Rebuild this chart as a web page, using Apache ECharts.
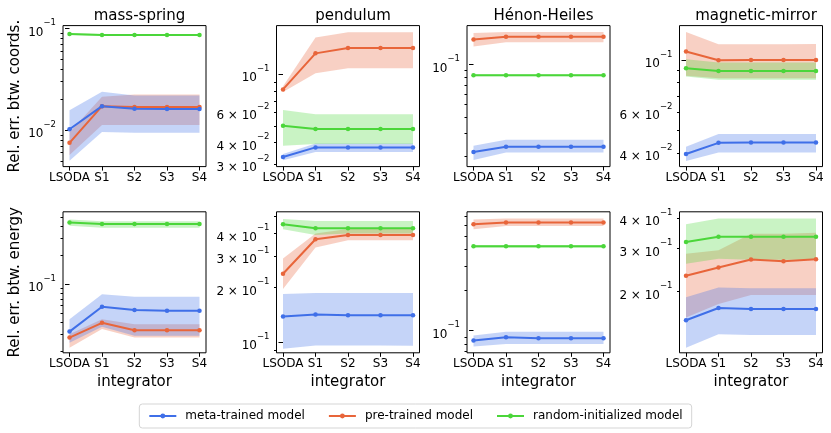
<!DOCTYPE html>
<html lang="en">
<head>
    <meta charset="UTF-8">
    <title>Relative error by integrator</title>
    <script src="https://cdn.jsdelivr.net/npm/echarts@6/dist/echarts.min.js"></script>
    <style>
        html, body { margin: 0; padding: 0; background: #fff; }
        #main { width: 831px; height: 433px; }
    </style>
</head>
<body>
<div id="main"></div>
<script>
    // categories
    const integrators = ['LSODA', 'S1', 'S2', 'S3', 'S4'];
    const systems = ['mass-spring', 'pendulum', 'Hénon-Heiles', 'magnetic-mirror'];
    const models = ['meta-trained model', 'pre-trained model', 'random-initialized model'];
    const metricNames = ['Rel. err. btw. coords.', 'Rel. err. btw. energy'];

    // coords error, one row per system (mean / lower / upper of the band)
    const metaCoords   = [[0.0102, 0.0172, 0.0162, 0.0161, 0.0161], [0.0330, 0.0375, 0.0374, 0.0374, 0.0374], [0.0216, 0.0237, 0.0237, 0.0237, 0.0237], [0.0397, 0.0443, 0.0445, 0.0445, 0.0445]];
    const metaCoordsLo = [[0.0050, 0.0096, 0.0094, 0.0094, 0.0094], [0.0316, 0.0353, 0.0353, 0.0353, 0.0353], [0.0188, 0.0214, 0.0214, 0.0214, 0.0214], [0.0371, 0.0403, 0.0403, 0.0403, 0.0403]];
    const metaCoordsHi = [[0.0157, 0.0238, 0.0219, 0.0219, 0.0219], [0.0343, 0.0395, 0.0395, 0.0395, 0.0395], [0.0241, 0.0268, 0.0268, 0.0268, 0.0268], [0.0426, 0.0483, 0.0483, 0.0483, 0.0483]];
    const preCoords    = [[0.0075, 0.0172, 0.0169, 0.0169, 0.0169], [0.0815, 0.132, 0.142, 0.142, 0.142], [0.155, 0.163, 0.163, 0.163, 0.163], [0.1085, 0.0997, 0.0998, 0.0998, 0.0998]];
    const preCoordsLo  = [[0.0057, 0.0112, 0.0112, 0.0112, 0.0112], [0.0786, 0.101, 0.108, 0.108, 0.108], [0.137, 0.148, 0.148, 0.148, 0.148], [0.0855, 0.0835, 0.0835, 0.0835, 0.0835]];
    const preCoordsHi  = [[0.0095, 0.0213, 0.0224, 0.0224, 0.0224], [0.0850, 0.163, 0.175, 0.175, 0.175], [0.174, 0.177, 0.177, 0.177, 0.177], [0.1314, 0.1167, 0.1167, 0.1167, 0.1170]];
    const randCoords   = [[0.088, 0.086, 0.086, 0.086, 0.086], [0.0501, 0.0480, 0.0480, 0.0480, 0.0480], [0.0830, 0.0830, 0.0830, 0.0830, 0.0830], [0.0922, 0.0897, 0.0897, 0.0897, 0.0897]];
    const randCoordsLo = [[0.086, 0.084, 0.084, 0.084, 0.084], [0.0383, 0.0392, 0.0392, 0.0392, 0.0392], [0.0815, 0.0815, 0.0815, 0.0815, 0.0815], [0.0849, 0.0822, 0.0822, 0.0822, 0.0822]];
    const randCoordsHi = [[0.090, 0.088, 0.088, 0.088, 0.088], [0.0618, 0.0585, 0.0585, 0.0585, 0.0585], [0.0845, 0.0845, 0.0845, 0.0845, 0.0845], [0.1007, 0.0974, 0.0974, 0.0974, 0.0974]];

    // energy error
    const metaEnergy   = [[0.0320, 0.0582, 0.0537, 0.0529, 0.0529], [0.1384, 0.142, 0.141, 0.141, 0.141], [0.0844, 0.0894, 0.0880, 0.0880, 0.0880], [0.1529, 0.1714, 0.1697, 0.1697, 0.1697]];
    const metaEnergyLo = [[0.0245, 0.0360, 0.0290, 0.0290, 0.0290], [0.0918, 0.0958, 0.0958, 0.0958, 0.0955], [0.0763, 0.0798, 0.0798, 0.0798, 0.0798], [0.118, 0.134, 0.133, 0.133, 0.133]];
    const metaEnergyHi = [[0.0432, 0.0785, 0.0742, 0.0742, 0.0742], [0.1848, 0.187, 0.187, 0.187, 0.187], [0.0919, 0.0983, 0.0983, 0.0983, 0.0983], [0.1896, 0.208, 0.2064, 0.2064, 0.2064]];
    const preEnergy    = [[0.0277, 0.0395, 0.0331, 0.0331, 0.0331], [0.239, 0.371, 0.3925, 0.3925, 0.3925], [0.610, 0.630, 0.630, 0.630, 0.630], [0.2322, 0.2511, 0.2708, 0.2664, 0.2716]];
    const preEnergyLo  = [[0.0217, 0.0340, 0.0277, 0.0277, 0.0277], [0.197, 0.334, 0.367, 0.367, 0.367], [0.560, 0.592, 0.592, 0.592, 0.592], [0.157, 0.178, 0.1939, 0.1939, 0.1939]];
    const preEnergyHi  = [[0.0300, 0.0432, 0.0383, 0.0383, 0.0383], [0.290, 0.400, 0.423, 0.423, 0.423], [0.663, 0.674, 0.674, 0.674, 0.674], [0.286, 0.295, 0.345, 0.345, 0.348]];
    const randEnergy   = [[0.443, 0.427, 0.427, 0.427, 0.427], [0.450, 0.4277, 0.4277, 0.4277, 0.4277], [0.420, 0.420, 0.420, 0.420, 0.420], [0.319, 0.335, 0.335, 0.335, 0.335]];
    const randEnergyLo = [[0.410, 0.390, 0.390, 0.390, 0.390], [0.4224, 0.392, 0.400, 0.400, 0.400], [0.410, 0.410, 0.410, 0.410, 0.410], [0.260, 0.2727, 0.270, 0.270, 0.270]];
    const randEnergyHi = [[0.475, 0.457, 0.457, 0.457, 0.457], [0.480, 0.468, 0.468, 0.468, 0.468], [0.430, 0.430, 0.430, 0.430, 0.430], [0.377, 0.398, 0.398, 0.398, 0.398]];

    // log axis limits and labelled ticks
    const coordsYMin = [0.00438, 0.0290, 0.01675, 0.0351];
    const coordsYMax = [0.1065, 0.1914, 0.198, 0.140];
    const energyYMin = [0.0192, 0.0872, 0.0686, 0.1125];
    const energyYMax = [0.573, 0.527, 0.755, 0.424];
    const coordsTickLabels = [[0.01, 0.1], [0.03, 0.04, 0.06, 0.1], [0.1], [0.04, 0.06, 0.1]];
    const energyTickLabels = [[0.1], [0.1, 0.2, 0.3, 0.4], [0.1], [0.2, 0.3, 0.4]];

    const colors = ['#3f6fe8', '#e8653a', '#4bd63a'];
    const gridLeft = [63, 276.5, 467, 679.5];
    const gridTop = [25.6, 211.8];
    const gridW = 143, gridH = 141;

    const rows = [
        {mean: [metaCoords, preCoords, randCoords], lo: [metaCoordsLo, preCoordsLo, randCoordsLo], hi: [metaCoordsHi, preCoordsHi, randCoordsHi],
         yMin: coordsYMin, yMax: coordsYMax, labels: coordsTickLabels},
        {mean: [metaEnergy, preEnergy, randEnergy], lo: [metaEnergyLo, preEnergyLo, randEnergyLo], hi: [metaEnergyHi, preEnergyHi, randEnergyHi],
         yMin: energyYMin, yMax: energyYMax, labels: energyTickLabels}
    ];

    // tick positions of a base-10 log axis between lo and hi
    function logTicks(lo, hi) {
        const major = [], minor = [];
        for (let e = Math.floor(Math.log10(lo)); e <= Math.ceil(Math.log10(hi)); e++) {
            for (let k = 1; k <= 9; k++) {
                const v = k * Math.pow(10, e);
                if (v < lo || v > hi) continue;
                (k === 1 ? major : minor).push(Math.log10(v));
            }
        }
        return {major, minor};
    }

    function sciLabel(lv) {
        const e = Math.floor(lv + 1e-9);
        const c = Math.round(Math.pow(10, lv - e));
        const exp = e < 0 ? '\u2212' + (-e) : String(e);
        return (c === 1 ? '{b|10}' : '{b|' + c + ' \u00d7 10}') + '{s|' + exp + '}';
    }

    // shaded band: one polygon through all (x, lo) then back through (x, hi)
    function bandRenderer(color) {
        return function (params, api) {
            if (params.dataIndex !== 0) return;
            const n = params.dataInsideLength;
            const top = [], bottom = [];
            for (let j = 0; j < n; j++) {
                bottom.push(api.coord([api.value(0, j), api.value(1, j)]));
                top.push(api.coord([api.value(0, j), api.value(2, j)]));
            }
            return {
                type: 'polygon',
                shape: {points: bottom.concat(top.reverse())},
                style: {fill: color, opacity: 0.3}
            };
        };
    }

    const grids = [], xAxes = [], yAxes = [], series = [], titles = [];
    const xTicks = integrators.map((_, i) => i);

    systems.forEach((name, c) => {
        titles.push({
            text: name, left: gridLeft[c] + gridW / 2, top: 4, textAlign: 'center',
            textStyle: {fontSize: 15, fontWeight: 'normal', color: '#000'}
        });
    });

    rows.forEach((row, r) => {
        for (let c = 0; c < 4; c++) {
            const g = r * 4 + c;
            grids.push({
                left: gridLeft[c], top: gridTop[r], width: gridW, height: gridH,
                show: true, borderColor: '#000', borderWidth: 1
            });
            xAxes.push({
                type: 'value', gridIndex: g, min: -0.2, max: 4.2,
                axisLine: {show: false}, splitLine: {show: false},
                axisTick: {customValues: xTicks, length: 4, lineStyle: {color: '#000'}},
                axisLabel: {customValues: xTicks, formatter: v => integrators[Math.round(v)], fontSize: 12, color: '#000', margin: 5},
                name: r === 1 ? 'integrator' : '', nameLocation: 'middle', nameGap: 22,
                nameTextStyle: {fontSize: 15, color: '#000'}
            });
            const lmin = Math.log10(row.yMin[c]), lmax = Math.log10(row.yMax[c]);
            const t = logTicks(row.yMin[c], row.yMax[c]);
            yAxes.push({
                type: 'value', gridIndex: g, position: 'left', min: lmin, max: lmax,
                axisLine: {show: false}, splitLine: {show: false},
                axisTick: {customValues: t.major, length: 4.5, lineStyle: {color: '#000'}},
                axisLabel: {
                    customValues: row.labels[c].map(Math.log10), formatter: sciLabel, color: '#000', margin: 7,
                    rich: {
                        b: {fontSize: 12, lineHeight: 20, verticalAlign: 'bottom', color: '#000'},
                        s: {fontSize: 8.5, lineHeight: 10, verticalAlign: 'top', color: '#000'}
                    }
                },
                name: c === 0 ? metricNames[r] : '', nameLocation: 'middle', nameGap: 40,
                nameTextStyle: {fontSize: 15, color: '#000'}
            });
            yAxes.push({
                type: 'value', gridIndex: g, position: 'left', min: lmin, max: lmax,
                axisLine: {show: false}, splitLine: {show: false}, axisLabel: {show: false},
                axisTick: {customValues: t.minor, length: 2.5, lineStyle: {color: '#000'}}
            });

            // pre-trained first so the meta band lies over its line, as in the figure
            [1, 0, 2].forEach(m => {
                const mean = row.mean[m][c], lo = row.lo[m][c], hi = row.hi[m][c];
                series.push({
                    type: 'custom', xAxisIndex: g, yAxisIndex: 2 * g, silent: true,
                    renderItem: bandRenderer(colors[m]),
                    encode: {x: 0, y: [1, 2]},
                    data: lo.map((v, i) => [i, Math.log10(v), Math.log10(hi[i])])
                });
                series.push({
                    type: 'line', name: models[m], xAxisIndex: g, yAxisIndex: 2 * g,
                    data: mean.map((v, i) => [i, Math.log10(v)]),
                    symbol: 'circle', symbolSize: 4.5,
                    lineStyle: {width: 2, color: colors[m]}, itemStyle: {color: colors[m]}
                });
            });
        }
    });

    let myChart = echarts.init(document.getElementById('main'));
    let option = {
        animation: false,
        backgroundColor: '#fff',
        textStyle: {fontFamily: 'DejaVu Sans'},
        title: titles,
        legend: {
            data: models, top: 404, left: 'center',
            itemWidth: 27, itemHeight: 6, itemGap: 23, padding: [5, 9],
            borderColor: '#d5d5d5', borderWidth: 1, borderRadius: 3,
            textStyle: {fontSize: 12, color: '#000', lineHeight: 14, padding: [0, 0, 0, 4]}
        },
        grid: grids,
        xAxis: xAxes,
        yAxis: yAxes,
        series: series
    };
    myChart.setOption(option);
</script>
</body>
</html>
